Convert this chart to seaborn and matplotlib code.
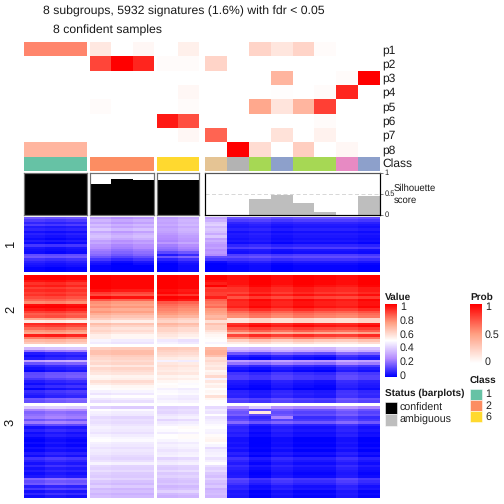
# consensus heatmap, 8 subgroups
import numpy as np
import pandas as pd
import seaborn as sns
import matplotlib.pyplot as plt
from matplotlib.cm import ScalarMappable
from matplotlib.colors import LinearSegmentedColormap, ListedColormap, Normalize
from matplotlib.patches import Rectangle

sns.set_theme(style="white")
plt.rcParams['font.family'] = ['Liberation Sans', 'DejaVu Sans']
plt.rcParams['text.hinting'] = 'no_hinting'

prob_names = ["p1", "p2", "p3", "p4", "p5", "p6", "p7", "p8"]
p1 = [.58, .58, .58, .12, 0, .04, 0, .08, 0, 0, .22, .13, .22, .02, 0, 0]
p2 = [0, 0, 0, .78, 1, .88, .02, .02, .22, 0, 0, 0, 0, 0, 0, 0]
p3 = [0, 0, 0, 0, 0, 0, 0, 0, 0, 0, 0, .38, 0, 0, .02, 1]
p4 = [0, 0, 0, 0, 0, 0, 0, .04, 0, 0, 0, .01, 0, .02, .88, 0]
p5 = [0, 0, 0, .02, 0, 0, 0, .02, 0, 0, .45, .14, .38, .8, 0, 0]
p6 = [0, 0, 0, 0, 0, 0, .92, .75, 0, 0, 0, 0, 0, .02, 0, 0]
p7 = [0, 0, 0, 0, 0, 0, 0, .04, .68, 0, 0, .15, 0, .07, 0, 0]
p8 = [.38, .38, .38, 0, 0, 0, 0, 0, 0, 1, .18, 0, .25, 0, .04, 0]

# Set2 index of every column
class_idx = [0, 0, 0, 1, 1, 1, 5, 5, 6, 7, 4, 2, 4, 4, 3, 2]
class_colors = ["#66C2A5", "#FC8D62", "#8DA0CB", "#E78AC3", "#A6D854", "#FFD92F", "#E5C494", "#B3B3B3"]

silhouette = [.96, .96, .96, .73, .85, .82, .82, .82, 0, 0, .38, .46, .27, .07, 0, .44]
status = ["confident"] * 8 + ["ambiguous"] * 8

# heat rows: first group, second group, third group, tan column, the other columns
rows_1 = [[.15, .28, .30, .30, .14], [.10, .33, .32, .33, .10], [.06, .30, .31, .38, .06],
          [.10, .35, .33, .40, .04], [.04, .32, .30, .35, .03], [.06, .37, .32, .38, .05],
          [.02, .30, .31, .36, .02], [.05, .34, .29, .32, .04], [.03, .36, .27, .38, .03],
          [.01, .33, .26, .30, .02], [.04, .28, .25, .33, .03], [.01, .30, .29, .30, .01],
          [.09, .26, .24, .28, .06], [.03, .25, .22, .30, .10], [.02, .22, .20, .26, .03],
          [.01, .20, .14, .28, .02], [.13, .18, .06, .25, .10], [.15, .14, .16, .14, .13],
          [.08, .09, .07, .10, .08], [.05, .04, .03, .02, .04], [.03, .02, .01, 0, .01],
          [.02, 0, 0, 0, 0], [0, 0, 0, 0, 0], [0, 0, 0, 0, 0]]
rows_2 = [[1, 1, 1, 1, 1], [1, 1, 1, 1, 1], [.97, 1, 1, .98, 1], [.92, 1, 1, .95, 1],
          [.95, 1, 1, 1, .98], [.90, 1, 1, .9, .95], [.93, .97, .97, .92, .95],
          [.90, .9, .98, .9, .92], [.92, .87, .92, .9, .97], [.88, .98, 1, .95, .9],
          [.84, .85, .97, .85, .98], [.78, .76, .85, .82, .96], [.98, .74, .82, .8, .96],
          [1, .77, .80, .83, .98], [.96, .72, .78, .76, .92], [.90, .75, .76, .74, .86],
          [.85, .70, .74, .72, .82], [.87, .66, .70, .68, .80], [.72, .62, .63, .70, .60],
          [.55, .55, .60, .58, .60], [.93, .66, .68, .66, .95], [.90, .62, .65, .62, .98],
          [.83, .58, .60, .62, .90], [.76, .60, .60, .58, .84], [.72, .57, .57, .54, .72],
          [.95, .53, .55, .52, .92], [.80, .53, .53, .51, .80], [.68, .47, .44, .50, .65],
          [.64, .45, .46, .48, .58]]
rows_3a = [[.35, .62, .64, .68, .35], [.20, .66, .62, .70, .30], [.05, .66, .60, .70, .15],
           [.02, .62, .58, .66, .05], [.05, .60, .55, .58, .02], [.30, .58, .47, .60, .28],
           [.15, .60, .56, .57, .20], [.06, .55, .58, .55, .08], [.03, .60, .56, .57, .03],
           [.01, .58, .55, .52, .01], [.13, .56, .57, .54, .08], [.14, .52, .53, .60, .10],
           [.10, .53, .55, .48, .10], [.05, .58, .52, .56, .04], [.02, .55, .50, .52, .03],
           [.06, .51, .51, .54, .02], [.01, .50, .47, .50, 0], [.08, .47, .49, .52, .05],
           [.06, .44, .50, .51, .06], [.04, .49, .47, .58, .05], [.16, .45, .46, .52, .12],
           [.14, .42, .48, .50, .10]]
rows_3b = [[.38, .40, .40, .42, .24], [.24, .50, .42, .46, .15], [.18, .47, .41, .44, .12],
           [.20, .46, .44, .50, .14], [.22, .42, .46, .44, .08], [.15, .44, .41, .46, .10],
           [.22, .43, .45, .47, .16], [.12, .45, .47, .49, .06], [.03, .47, .50, .50, .03],
           [.06, .46, .49, .48, .04], [.02, .44, .46, .47, .02], [.04, .47, .50, .51, .03],
           [.01, .49, .50, .52, 0], [0, .50, .48, .53, 0], [.02, .47, .45, .50, .01],
           [0, .46, .47, .48, 0], [.03, .44, .46, .42, .02], [.01, .46, .44, .46, 0],
           [.05, .45, .46, .47, .03], [.02, .43, .47, .48, .01], [.09, .42, .41, .44, .06],
           [.06, .44, .44, .47, .04], [.03, .48, .46, .50, .02], [.07, .42, .40, .43, .05],
           [.03, .41, .39, .40, .03], [.05, .43, .42, .42, .02], [.02, .40, .38, .38, .01],
           [.04, .39, .40, .36, .02], [.18, .42, .37, .40, .10], [.14, .38, .36, .37, .08],
           [.16, .36, .38, .35, .06], [.05, .40, .34, .38, .03], [.10, .35, .36, .33, .04],
           [.03, .37, .40, .35, .01], [.07, .34, .35, .36, .02], [.02, .36, .33, .34, .01]]

# which of the five row entries each column uses, and how far it drifts from it
col_source = [0, 0, 0, 1, 1, 1, 2, 2, 3, 4, 4, 4, 4, 4, 4, 4]
drift_1 = [.01, 0, .01, .01, -.02, 0, -.01, .02, 0, .01, .02, 0, .01, .01, .01, 0]
drift_2 = [0, .01, -.01, .01, -.01, -.01, .01, -.01, 0, -.03, .01, -.02, .01, -.01, -.02, .01]
drift_3a = [0, .02, .03, 0, .01, .01, 0, -.01, 0, .01, -.01, .02, 0, -.01, .04, .02]
drift_3b = [0, .02, .01, 0, -.01, -.01, 0, .01, 0, .03, -.01, .02, 0, 0, .03, 0]

# pixel layout of the reference
group_cols = [(0, 3), (3, 6), (6, 8), (8, 16)]
group_x = [(24, 87), (90, 154), (157, 199), (205, 380)]
heat_y = [(217, 272), (275, 344), (347, 403), (406, 498)]


def px_axes(x0, y0, x1, y1):
    return fig.add_axes([x0 / 504, 1 - y1 / 504, (x1 - x0) / 504, (y1 - y0) / 504])


value_cmap = LinearSegmentedColormap.from_list(
    "value", [(0, "#0000FF"), (.25, "#B38BFF"), (.5, "#FFFFFF"), (.75, "#FF9E81"), (1, "#FF0000")])
prob_cmap = LinearSegmentedColormap.from_list(
    "prob", [(0, "#FFFFFF"), (.5, "#FF9E81"), (1, "#FF0000")])

fig = plt.figure(figsize=(7, 7), dpi=72)

# all text and legend keys sit on one layer counted in pixels
page = fig.add_axes([0, 0, 1, 1])
page.set_xlim(0, 504)
page.set_ylim(504, 0)
page.axis("off")

probs = np.array([p1, p2, p3, p4, p5, p6, p7, p8])
classes = np.array([class_idx])
sil = pd.DataFrame({"col": range(16), "score": silhouette, "status": status})

for (c0, c1), (x0, x1) in zip(group_cols, group_x):
    ax = px_axes(x0, 42, x1, 156.5)
    sns.heatmap(probs[:, c0:c1], ax=ax, cmap=prob_cmap, vmin=0, vmax=1, cbar=False,
                xticklabels=False, yticklabels=False)
    ax = px_axes(x0, 157, x1, 171)
    sns.heatmap(classes[:, c0:c1], ax=ax, cmap=ListedColormap(class_colors), vmin=0, vmax=7,
                cbar=False, xticklabels=False, yticklabels=False)

    ax = px_axes(x0, 172.5, x1, 214.5)
    part = sil.iloc[c0:c1].copy()
    part["col"] = part["col"].astype(str)
    sns.barplot(data=part, x="col", y="score", hue="status", ax=ax, width=1, dodge=False,
                palette={"confident": "black", "ambiguous": "#BEBEBE"}, legend=False,
                linewidth=0, saturation=1)
    ax.set_xlim(-.5, c1 - c0 - .5)
    ax.set_ylim(0, 1)
    ax.set_xlabel("")
    ax.set_ylabel("")
    ax.set_xticks([])
    ax.set_yticks([])
    frame = "black" if c0 == 8 else "#707070"
    for side in ax.spines.values():
        side.set_visible(True)
        side.set_color(frame)
        side.set_linewidth(1.2)
    if c0 == 8:
        ax.axhline(.5, color="#D8D8D8", ls="--", lw=1, dashes=(4, 2.5))
        ax.yaxis.tick_right()
        ax.set_yticks([0, .5, 1], ["0", "0.5", "1"])
        ax.tick_params(axis="y", right=True, length=3, width=.6, pad=1.5, labelsize=7.5, color="#333333",
                       labelcolor="#222222")
        ax.spines["top"].set_color("#555555")

blocks = [(rows_1, drift_1), (rows_2, drift_2), (rows_3a, drift_3a), (rows_3b, drift_3b)]
for (rows, drift), (y0, y1) in zip(blocks, heat_y):
    mat = np.array(rows)[:, col_source] + np.array(drift)
    if rows is rows_3b:
        mat[2, 10] = .56
        mat[0, 10] = .38
        mat[4, 11] = .24
    mat = np.clip(mat, 0, 1)
    for (c0, c1), (x0, x1) in zip(group_cols, group_x):
        ax = px_axes(x0, y0, x1, y1)
        sns.heatmap(mat[:, c0:c1], ax=ax, cmap=value_cmap, vmin=0, vmax=1, cbar=False,
                    xticklabels=False, yticklabels=False)

# titles and row labels
page.text(43, 11, "8 subgroups, 5932 signatures (1.6%) with fdr < 0.05", fontsize=12.2,
          va="center", color="#1A1A1A")
page.text(53, 30, "8 confident samples", fontsize=12.2, va="center", color="#1A1A1A")
for i, name in enumerate(prob_names):
    page.text(382, 50 + i * 14.3, name, fontsize=12, va="center", color="#1A1A1A")
page.text(382, 164, "Class", fontsize=12, va="center", color="#1A1A1A")
page.text(393.5, 188, "Silhouette", fontsize=9.5, va="center", color="#1A1A1A")
page.text(393.5, 200, "score", fontsize=9.5, va="center", color="#1A1A1A")
for label, y in zip(["1", "2", "3"], [244, 309, 422]):
    page.text(10.5, y, label, fontsize=13, rotation=90, ha="center", va="center", color="#1A1A1A")

# colour bars
cax = px_axes(385, 304.3, 397, 376.7)
cbar = fig.colorbar(ScalarMappable(Normalize(-.025, 1.025), value_cmap), cax=cax)
cbar.set_ticks([0, .2, .4, .6, .8, 1], labels=["0", "0.2", "0.4", "0.6", "0.8", "1"])
cax2 = px_axes(470, 304.3, 482, 363)
cbar2 = fig.colorbar(ScalarMappable(Normalize(-.04, 1.04), prob_cmap), cax=cax2)
cbar2.set_ticks([0, .5, 1], labels=["0", "0.5", "1"])
for bar, ca in [(cbar, cax), (cbar2, cax2)]:
    bar.outline.set_visible(False)
    ca.tick_params(axis="y", right=True, left=True, direction="in", length=3, width=.8, color="white",
                   pad=3, labelsize=10.6, labelcolor="#222222")

# legends
page.text(385, 297, "Value", fontsize=10, fontweight="bold", va="center", color="#1A1A1A")
page.text(470, 297, "Prob", fontsize=10, fontweight="bold", va="center", color="#1A1A1A")
page.text(470, 380.5, "Class", fontsize=10, fontweight="bold", va="center", color="#1A1A1A")
page.text(385, 393, "Status (barplots)", fontsize=10, fontweight="bold", va="center", color="#1A1A1A")
for i, (name, color) in enumerate(zip(["1", "2", "6"], [class_colors[0], class_colors[1], class_colors[5]])):
    page.add_patch(Rectangle((470, 388.5 + i * 11.2), 11.5, 11.2, fc=color, ec="white", lw=.5))
    page.text(485, 394.5 + i * 11.2, name, fontsize=10.6, va="center", color="#222222")
for i, (name, color) in enumerate(zip(["confident", "ambiguous"], ["black", "#BEBEBE"])):
    page.add_patch(Rectangle((385, 402 + i * 12), 11.5, 12, fc=color, ec="white", lw=.5))
    page.text(400, 408 + i * 12, name, fontsize=10.6, va="center", color="#222222")

fig.savefig("out.png", dpi=72)
